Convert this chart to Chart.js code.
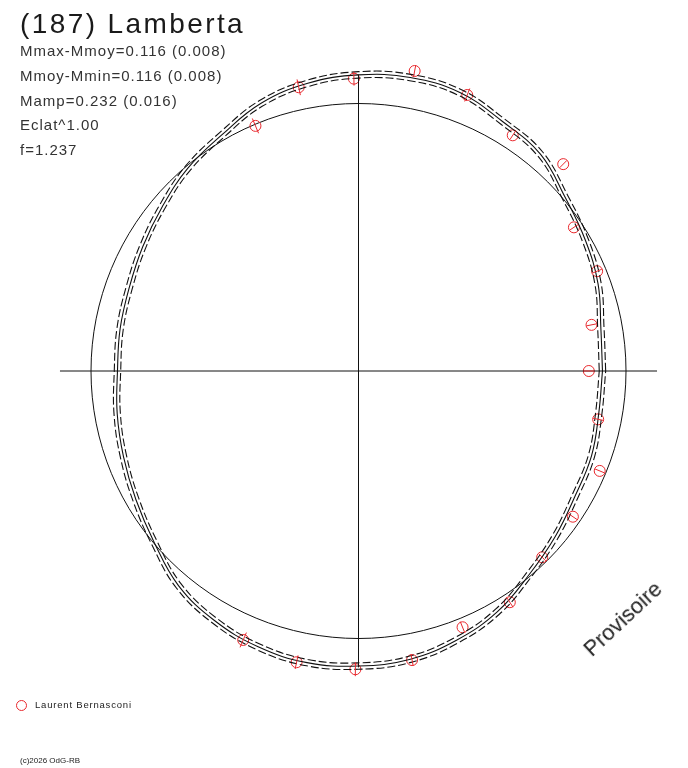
<!DOCTYPE html>
<html>
<head>
<meta charset="utf-8">
<script src="https://cdn.jsdelivr.net/npm/chart.js@4/dist/chart.umd.min.js"></script>
<style>
  body { margin: 0; background: #fff; }
  #wrap { position: relative; width: 688px; height: 768px; font-family: "Liberation Sans", Arial, sans-serif; color: #222; }
  #plot { position: absolute; left: 0; top: 0; }
  .txt { position: absolute; white-space: nowrap; }
  #title { left: 20px; top: 6px; font-size: 28px; letter-spacing: 2.4px; line-height: 36px; color: #1a1a1a; }
  .stat { left: 20px; font-size: 15px; letter-spacing: 1px; line-height: 18px; color: #333; }
  #legend { left: 16px; top: 698px; font-size: 9.5px; letter-spacing: 0.8px; line-height: 14px; }
  #legend span.mk { display: inline-block; width: 9px; height: 9px; border: 1px solid #e8282d; border-radius: 50%; vertical-align: middle; margin-right: 8px; }
  #copy { left: 20px; top: 756px; font-size: 8px; line-height: 10px; }
  #prov { left: 574px; top: 606px; font-size: 22px; transform: rotate(-43deg); transform-origin: 50% 50%; line-height: 26px; }
</style>
</head>
<body>
<div id="wrap">
  <canvas id="plot" width="688" height="768"></canvas>
  <div class="txt" id="title">(187) Lamberta</div>
  <div class="txt stat" style="top:42px">Mmax-Mmoy=0.116 (0.008)</div>
  <div class="txt stat" style="top:67px">Mmoy-Mmin=0.116 (0.008)</div>
  <div class="txt stat" style="top:92px">Mamp=0.232 (0.016)</div>
  <div class="txt stat" style="top:116px">Eclat^1.00</div>
  <div class="txt stat" style="top:141px">f=1.237</div>
  <div class="txt" id="legend"><span class="mk"></span>Laurent Bernasconi</div>
  <div class="txt" id="copy">(c)2026 OdG-RB</div>
  <div class="txt" id="prov">Provisoire</div>
</div>
<script>
document.addEventListener('DOMContentLoaded', function () {
    /* model curve (radius vs phase angle, reference circle = 1) */
    const curveAngles = [0, 10, 20, 30, 40, 50, 60, 70, 80, 90, 100, 110, 120, 130, 140, 150, 160, 170,
                         180, 190, 200, 210, 220, 230, 240, 250, 260, 270, 280, 290, 300, 310, 320, 330, 340, 350];
    const curveFit = [0.912, 0.920, 0.953, 0.979, 1.009, 1.058, 1.077, 1.108, 1.114, 1.107, 1.092, 1.065,
                      1.020, 0.991, 0.957, 0.931, 0.912, 0.905, 0.901, 0.916, 0.935, 0.961, 0.997, 1.047,
                      1.077, 1.097, 1.107, 1.103, 1.095, 1.071, 1.039, 0.993, 0.961, 0.935, 0.927, 0.912];
    const curveUpper = [0.924, 0.932, 0.965, 0.991, 1.021, 1.070, 1.089, 1.120, 1.126, 1.119, 1.104, 1.077,
                        1.032, 1.003, 0.969, 0.943, 0.924, 0.917, 0.913, 0.928, 0.947, 0.973, 1.009, 1.059,
                        1.089, 1.109, 1.119, 1.115, 1.107, 1.083, 1.051, 1.005, 0.973, 0.947, 0.939, 0.924];
    const curveLower = [0.900, 0.908, 0.941, 0.967, 0.997, 1.046, 1.065, 1.096, 1.102, 1.095, 1.080, 1.053,
                        1.008, 0.979, 0.945, 0.919, 0.900, 0.893, 0.889, 0.904, 0.923, 0.949, 0.985, 1.035,
                        1.065, 1.085, 1.095, 1.091, 1.083, 1.059, 1.027, 0.981, 0.949, 0.923, 0.915, 0.900];

    /* observations (Laurent Bernasconi) */
    const obsAngles = [112.8, 101.9, 90.9, 79.4, 68.5, 56.8, 45.3, 33.7, 22.7, 11.2, 0.0,
                       -11.4, -22.5, -34.2, -45.4, -56.8, -67.9, -79.5, -90.6, -102.0, -113.2];
    const obsRadius = [0.994, 1.084, 1.093, 1.141, 1.109, 1.053, 1.088, 0.968, 0.967, 0.888, 0.861,
                       0.914, 0.976, 0.969, 0.978, 1.033, 1.034, 1.099, 1.115, 1.113, 1.094];
    const obsError = [0.030, 0.030, 0.026, 0.022, 0.026, 0.019, 0.019, 0.019, 0.019, 0.019, 0.019,
                      0.019, 0.019, 0.019, 0.019, 0.022, 0.022, 0.022, 0.026, 0.026, 0.030];

    const axisHalfX = 1.116;
    const axisHalfY = 1.108;
    const refRadius = 1;

    const ink = '#111111';
    const red = '#e8282d';

    function polar(angle, r) {
        const a = angle * Math.PI / 180;
        return { x: r * Math.cos(a), y: r * Math.sin(a) };
    }
    function closedCurve(radii) {
        const pts = curveAngles.map((a, i) => polar(a, radii[i]));
        pts.push(pts[0]);
        return pts;
    }
    const obsPoints = obsAngles.map((a, i) => polar(a, obsRadius[i]));

    // reference circle + error bars, drawn through the chart scales
    const polarExtras = {
        id: 'polarExtras',
        beforeDatasetsDraw(chart) {
            const { ctx, scales: { x, y } } = chart;
            const cx = x.getPixelForValue(0);
            const cy = y.getPixelForValue(0);
            const rad = x.getPixelForValue(refRadius) - cx;
            ctx.save();
            ctx.strokeStyle = ink;
            ctx.lineWidth = 1;
            ctx.beginPath();
            ctx.arc(cx, cy, rad, 0, Math.PI * 2);
            ctx.stroke();
            ctx.restore();
        },
        afterDatasetsDraw(chart) {
            const { ctx, scales: { x, y } } = chart;
            ctx.save();
            ctx.strokeStyle = red;
            ctx.lineWidth = 1;
            obsAngles.forEach((a, i) => {
                const p1 = polar(a, obsRadius[i] - obsError[i]);
                const p2 = polar(a, obsRadius[i] + obsError[i]);
                ctx.beginPath();
                ctx.moveTo(x.getPixelForValue(p1.x), y.getPixelForValue(p1.y));
                ctx.lineTo(x.getPixelForValue(p2.x), y.getPixelForValue(p2.y));
                ctx.stroke();
            });
            ctx.restore();
        }
    };

    const ctx = document.getElementById('plot').getContext('2d');
    const lambertaChart = new Chart(ctx, {
        type: 'scatter',
        data: {
            datasets: [{
                label: 'axe x',
                data: [{ x: -axisHalfX, y: 0 }, { x: axisHalfX, y: 0 }],
                showLine: true,
                borderColor: ink,
                borderWidth: 1,
                pointRadius: 0
            }, {
                label: 'axe y',
                data: [{ x: 0, y: -axisHalfY }, { x: 0, y: axisHalfY }],
                showLine: true,
                borderColor: ink,
                borderWidth: 1,
                pointRadius: 0
            }, {
                label: 'fit',
                data: closedCurve(curveFit),
                showLine: true,
                borderColor: ink,
                borderWidth: 1.1,
                tension: 0.4,
                pointRadius: 0
            }, {
                label: 'fit +',
                data: closedCurve(curveUpper),
                showLine: true,
                borderColor: ink,
                borderWidth: 1.1,
                borderDash: [8, 3],
                tension: 0.4,
                pointRadius: 0
            }, {
                label: 'fit -',
                data: closedCurve(curveLower),
                showLine: true,
                borderColor: ink,
                borderWidth: 1.1,
                borderDash: [8, 3],
                tension: 0.4,
                pointRadius: 0
            }, {
                label: 'Laurent Bernasconi',
                data: obsPoints,
                showLine: false,
                pointStyle: 'circle',
                pointRadius: 5.5,
                pointBorderWidth: 1,
                pointBorderColor: red,
                pointBackgroundColor: 'rgba(0,0,0,0)'
            }]
        },
        options: {
            responsive: false,
            animation: false,
            events: [],
            layout: {
                padding: { left: 37.5, right: 8.5, top: 50, bottom: 76 }
            },
            plugins: {
                legend: { display: false },
                tooltip: { enabled: false }
            },
            scales: {
                x: { type: 'linear', min: -1.2, max: 1.2, display: false },
                y: { type: 'linear', min: -1.2, max: 1.2, display: false }
            }
        },
        plugins: [polarExtras]
    });
});
</script>
</body>
</html>
